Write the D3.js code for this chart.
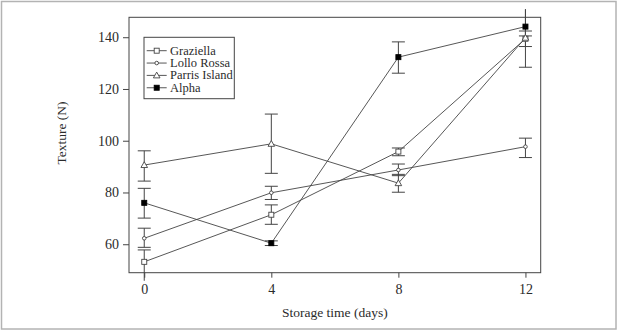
<!DOCTYPE html>
<html lang="en">
<head>
	<meta charset="utf-8">
	<title>texture_storage_time</title>
	<script src="https://d3js.org/d3.v7.min.js"></script>
	<style type="text/css">
		body { margin: 0; background: #fff; }
		.Axis path, .Axis line { fill: none; stroke: #444; stroke-width: 1; }
	</style>
</head>
<body>
	<svg id="placeholder1"></svg>

	<script type="text/javascript">
		//============================================================
		//                          data
		//============================================================
		var days = [0, 4, 8, 12]
		var seriesNames = ["Graziella", "Lollo Rossa", "Parris Island", "Alpha"]
		var xTicks = [0, 4, 8, 12]
		var yTicks = [60, 80, 100, 120, 140]

		// mean, lower and upper end of error bar
		var graziella     = [53.2, 71.4, 95.8, 139.4]
		var graziellaLow  = [45.0, 67.7, 94.2, 136.4]
		var graziellaHigh = [57.8, 75.2, 97.2, 142.4]

		var lollo     = [62.3, 79.9, 88.7, 97.7]
		var lolloLow  = [58.8, 77.3, 86.5, 93.5]
		var lolloHigh = [66.2, 82.4, 91.0, 101.0]

		var parris     = [90.6, 98.8, 83.6, 139.8]
		var parrisLow  = [84.4, 87.4, 80.1, 128.4]
		var parrisHigh = [96.1, 110.3, 87.0, 152.0]

		var alpha     = [76.0, 60.4, 132.3, 144.1]
		var alphaLow  = [70.1, 59.5, 126.1, 140.5]
		var alphaHigh = [81.6, 61.3, 138.2, 152.0]

		//============================================================
		//                          init
		//============================================================
		var wholeW = 617
		var wholeH = 330
		var ink = "#444"
		var serif = "'Liberation Serif', 'DejaVu Serif', serif"
		var textInk = "#2b2b2b"

		var plot = {left: 129, right: 540.7, top: 17.3, bottom: 272.7}

		var xScale = d3.scaleLinear().domain([-0.48, 12.48]).range([plot.left, plot.right])
		var yScale = d3.scaleLinear().domain([49.0, 147.7]).range([plot.bottom, plot.top])

		var series = [
			{name: seriesNames[0], mean: graziella, low: graziellaLow, high: graziellaHigh, shape: "square"},
			{name: seriesNames[1], mean: lollo, low: lolloLow, high: lolloHigh, shape: "circle"},
			{name: seriesNames[2], mean: parris, low: parrisLow, high: parrisHigh, shape: "triangle"},
			{name: seriesNames[3], mean: alpha, low: alphaLow, high: alphaHigh, shape: "filled"}
		]

		var svg = d3.select("#placeholder1")
			.attr("width", wholeW)
			.attr("height", wholeH)
			.style("font-family", serif)

		// outer frame
		svg.append("rect")
			.attr("x", 1.5).attr("y", 1.5)
			.attr("width", wholeW - 2.5).attr("height", wholeH - 2.5)
			.attr("fill", "none")
			.attr("stroke", "#b3b3b3")
			.attr("stroke-width", 1.5)

		svg.append("clipPath").attr("id", "bars-clip")
			.append("rect")
			.attr("x", plot.left).attr("y", plot.top - 8)
			.attr("width", plot.right - plot.left).attr("height", plot.bottom - plot.top + 16)

		function drawMarker(g, shape, x, y) {
			if (shape == "square" || shape == "filled") {
				g.append("rect")
					.attr("x", x - 2.5).attr("y", y - 2.5)
					.attr("width", 5).attr("height", 5)
					.attr("fill", shape == "filled" ? "#000" : "#fff")
					.attr("stroke", shape == "filled" ? "#000" : ink)
					.attr("stroke-width", 0.9)
			} else if (shape == "circle") {
				g.append("circle")
					.attr("cx", x).attr("cy", y).attr("r", 1.8)
					.attr("fill", "#fff").attr("stroke", ink).attr("stroke-width", 0.9)
			} else {
				var s = 3.3
				g.append("path")
					.attr("d", "M" + x + "," + (y - s) + "L" + (x + s) + "," + (y + s * 0.75) + "L" + (x - s) + "," + (y + s * 0.75) + "Z")
					.attr("fill", "#fff").attr("stroke", ink).attr("stroke-width", 0.9)
			}
		}

		//============================================================
		//                          draw
		//============================================================
		var line = d3.line()
			.x((d, i) => xScale(days[i]))
			.y(d => yScale(d))

		// error bars
		var bars = svg.append("g").attr("clip-path", "url(#bars-clip)")
		series.forEach(s => {
			days.forEach((day, i) => {
				var x = xScale(day)
				bars.append("line")
					.attr("x1", x).attr("x2", x)
					.attr("y1", yScale(s.low[i])).attr("y2", yScale(s.high[i]))
					.attr("stroke", ink).attr("stroke-width", 1)
				;[s.low[i], s.high[i]].forEach(v => {
					bars.append("line")
						.attr("x1", x - 6.5).attr("x2", x + 6.5)
						.attr("y1", yScale(v)).attr("y2", yScale(v))
						.attr("stroke", ink).attr("stroke-width", 1)
				})
			})
		})

		// lines
		series.forEach(s => {
			svg.append("path")
				.attr("d", line(s.mean))
				.attr("fill", "none")
				.attr("stroke", ink)
				.attr("stroke-width", 0.9)
		})

		// markers
		var marks = svg.append("g")
		series.forEach(s => {
			s.mean.forEach((v, i) => drawMarker(marks, s.shape, xScale(days[i]), yScale(v)))
		})

		// plot box
		svg.append("rect")
			.attr("x", plot.left).attr("y", plot.top)
			.attr("width", plot.right - plot.left).attr("height", plot.bottom - plot.top)
			.attr("fill", "none").attr("stroke", ink).attr("stroke-width", 1)

		// axes
		var xAxis = d3.axisBottom(xScale).tickValues(xTicks).tickSize(5).tickPadding(6)
		var yAxis = d3.axisLeft(yScale).tickValues(yTicks).tickSize(6).tickPadding(4)

		var gx = svg.append("g").attr("class", "x Axis")
			.attr("transform", "translate(0," + plot.bottom + ")")
			.call(xAxis)
			.attr("font-family", null)
		gx.select(".domain").remove()
		gx.selectAll("text")
			.style("font-family", serif).style("font-size", "14px").attr("fill", textInk)

		var gy = svg.append("g").attr("class", "y Axis")
			.attr("transform", "translate(" + plot.left + ",0)")
			.call(yAxis)
			.attr("font-family", null)
		gy.select(".domain").remove()
		gy.selectAll("text")
			.style("font-family", serif).style("font-size", "14px").attr("fill", textInk)

		// axis titles
		svg.append("text")
			.attr("x", (plot.left + plot.right) / 2)
			.attr("y", 317)
			.attr("text-anchor", "middle")
			.style("font-family", serif)
			.style("font-size", "13.5px")
			.attr("fill", textInk)
			.text("Storage time (days)")

		svg.append("text")
			.attr("transform", "translate(66," + ((plot.top + plot.bottom) / 2 - 12) + ") rotate(-90)")
			.attr("text-anchor", "middle")
			.style("font-family", serif)
			.style("font-size", "13.5px")
			.attr("fill", textInk)
			.text("Texture (N)")

		// legend
		var legend = svg.append("g")
		legend.append("rect")
			.attr("x", 144).attr("y", 37.3)
			.attr("width", 90.3).attr("height", 61.4)
			.attr("fill", "#fff").attr("stroke", ink).attr("stroke-width", 1)

		series.forEach((s, i) => {
			var y = 50.7 + i * 12.35
			legend.append("line")
				.attr("x1", 146.7).attr("x2", 166.7)
				.attr("y1", y).attr("y2", y)
				.attr("stroke", ink).attr("stroke-width", 0.9)
			drawMarker(legend, s.shape, 156.7, y)
			legend.append("text")
				.attr("x", 170).attr("y", y + 4)
				.style("font-family", serif)
				.style("font-size", "12.5px")
				.attr("fill", textInk)
				.text(s.name)
		})
	</script>
</body>
</html>
